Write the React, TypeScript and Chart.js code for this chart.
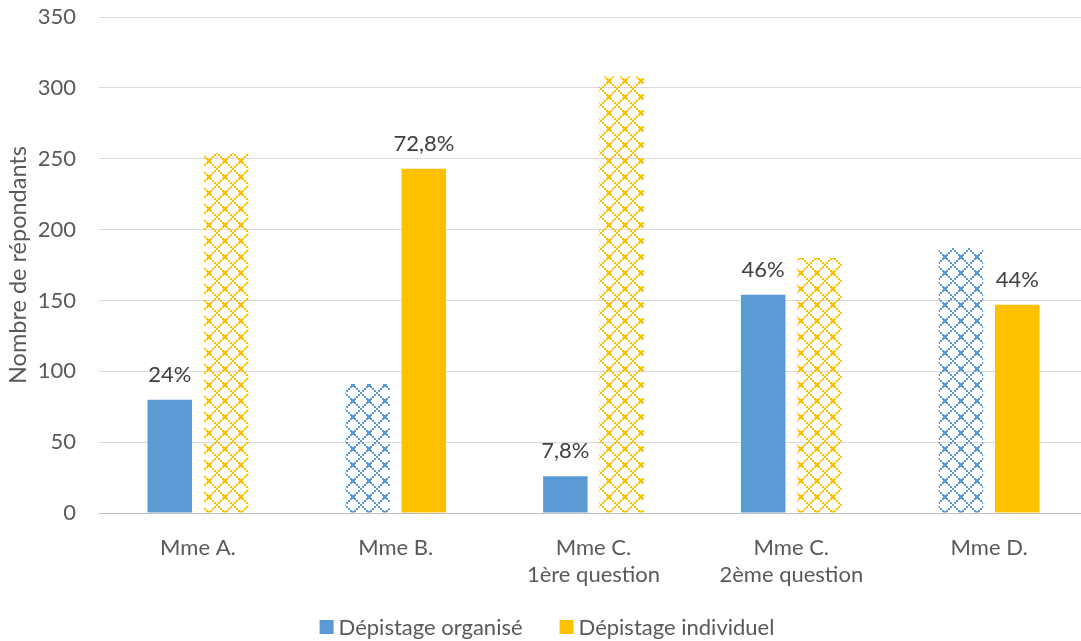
import { useEffect, useRef } from "react";
import { Chart, registerables } from "chart.js";

Chart.register(...registerables);

// Categories (multi-line labels), respondents per answer, and which bars are shown hatched
const categories: string[][] = [
  ["Mme A."],
  ["Mme B."],
  ["Mme C.", "1ère question"],
  ["Mme C.", "2ème question"],
  ["Mme D."],
];
const organise = [80, 91, 26, 154, 187];
const individuel = [254, 243, 308, 180, 147];
const organiseHatched = [false, true, false, false, true];
const individuelHatched = [true, false, true, true, false];
const organiseLabels = ["24%", "", "7,8%", "46%", ""];
const individuelLabels = ["", "72,8%", "", "", "44%"];
const seriesNames = ["Dépistage organisé", "Dépistage individuel"];
const yMax = 350;
const yStep = 50;

const BLUE = "#5B9BD5";
const YELLOW = "#FFC000";
const TEXT = "#595959";
const FONT = "Lato, 'Open Sans', sans-serif";
const SIZE = 22;

// Diagonal lattice drawn in 2px steps, with a filled square on every other crossing
function makeLattice(color: string): CanvasPattern | string {
  const size = 16;
  const c = document.createElement("canvas");
  c.width = size;
  c.height = size;
  const g = c.getContext("2d");
  if (!g) return color;
  g.fillStyle = color;
  const squarePx = [15, 0, 1, 2];
  for (let py = 0; py < size; py++) {
    for (let px = 0; px < size; px++) {
      const cx = Math.floor(px / 2);
      const cy = Math.floor(py / 2);
      const line = (cx - cy + 8) % 8 === 0 || (cx + cy) % 8 === 0;
      const sq = squarePx.includes(px) && squarePx.includes(py);
      if (line || sq) g.fillRect(px, py, 1, 1);
    }
  }
  return g.createPattern(c, "repeat") ?? color;
}

const valueLabels = {
  id: "valueLabels",
  afterDatasetsDraw(chart: Chart) {
    const { ctx } = chart;
    const sets = [organiseLabels, individuelLabels];
    ctx.save();
    ctx.font = `${SIZE}px ${FONT}`;
    ctx.fillStyle = "#404040";
    ctx.textAlign = "center";
    ctx.textBaseline = "alphabetic";
    sets.forEach((labels, di) => {
      const meta = chart.getDatasetMeta(di);
      meta.data.forEach((el: any, i: number) => {
        const t = labels[i];
        if (t) ctx.fillText(t, el.x, el.y - 18);
      });
    });
    ctx.restore();
  },
};

// Legend row under the axis: solid swatch + series name
const bottomLegend = {
  id: "bottomLegend",
  afterDraw(chart: Chart) {
    const { ctx } = chart;
    const colors = [BLUE, YELLOW];
    const box = 14;
    const gap = 5;
    const spacing = 37;
    ctx.save();
    ctx.font = `${SIZE}px ${FONT}`;
    const widths = seriesNames.map((n) => box + gap + ctx.measureText(n).width);
    const total = widths.reduce((a, b) => a + b, 0) + spacing * (widths.length - 1);
    let x = 547 - total / 2;
    const cy = 627;
    ctx.textBaseline = "middle";
    ctx.textAlign = "left";
    seriesNames.forEach((n, i) => {
      ctx.fillStyle = colors[i];
      ctx.fillRect(x, cy - box / 2, box, box);
      ctx.fillStyle = TEXT;
      ctx.fillText(n, x + box + gap, cy + 1);
      x += widths[i] + spacing;
    });
    ctx.restore();
  },
};

export default function App() {
  const ref = useRef<HTMLCanvasElement | null>(null);

  useEffect(() => {
    if (!ref.current) return;
    const blueHatch = makeLattice(BLUE);
    const yellowHatch = makeLattice(YELLOW);
    const chart = new Chart(ref.current, {
      type: "bar",
      data: {
        labels: categories,
        datasets: [
          {
            label: seriesNames[0],
            data: organise,
            backgroundColor: organiseHatched.map((h) => (h ? blueHatch : BLUE)),
            borderWidth: 0,
            categoryPercentage: 0.569,
            barPercentage: 0.791,
          },
          {
            label: seriesNames[1],
            data: individuel,
            backgroundColor: individuelHatched.map((h) => (h ? yellowHatch : YELLOW)),
            borderWidth: 0,
            categoryPercentage: 0.569,
            barPercentage: 0.791,
          },
        ],
      },
      options: {
        animation: false,
        responsive: true,
        maintainAspectRatio: false,
        layout: { padding: { top: 17, right: 12, left: 0, bottom: 48 } },
        plugins: {
          tooltip: { enabled: false },
          legend: { display: false },
        },
        scales: {
          x: {
            grid: { display: false, drawTicks: false },
            border: { color: "#BFBFBF", width: 1 },
            ticks: {
              color: TEXT,
              font: { family: FONT, size: SIZE, lineHeight: 1.2 },
              padding: 22,
              maxRotation: 0,
              autoSkip: false,
            },
            afterFit: (scale: any) => {
              scale.height = 80;
            },
          },
          y: {
            min: 0,
            max: yMax,
            grid: { color: "#D9D9D9", drawTicks: false },
            border: { display: false },
            ticks: {
              stepSize: yStep,
              color: TEXT,
              font: { family: FONT, size: SIZE },
              padding: 23,
            },
            title: {
              display: true,
              text: "Nombre de répondants",
              color: TEXT,
              font: { family: FONT, size: 23.5 },
              padding: { top: 4, bottom: 0 },
            },
            afterFit: (scale: any) => {
              scale.width = 99;
              scale.paddingTop = 0;
              scale.paddingBottom = 0;
            },
          },
        },
      },
      plugins: [valueLabels, bottomLegend],
    });
    return () => chart.destroy();
  }, []);

  // The plot runs past the right edge of the visible frame
  return (
    <div style={{ position: "fixed", left: 0, top: 0, width: 1081, height: 641, overflow: "hidden", background: "#fff" }}>
      <div style={{ position: "relative", width: 1100, height: 641 }}>
        <canvas ref={ref} />
      </div>
    </div>
  );
}
